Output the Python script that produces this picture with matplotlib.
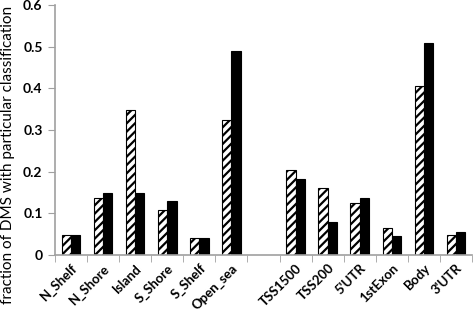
import matplotlib
matplotlib.use("Agg")
import matplotlib.pyplot as plt
import numpy as np

categories = ["N_Shelf", "N_Shore", "Island", "S_Shore", "S_Shelf", "Open_sea", "",
              "TSS1500", "TSS200", "5'UTR", "1stExon", "Body", "3'UTR"]
hatched_vals = [0.047, 0.138, 0.348, 0.108, 0.042, 0.325, np.nan,
                0.204, 0.160, 0.126, 0.066, 0.406, 0.047]
black_vals = [0.047, 0.150, 0.148, 0.130, 0.042, 0.490, np.nan,
              0.182, 0.080, 0.137, 0.045, 0.509, 0.056]
yticks = [0, 0.1, 0.2, 0.3, 0.4, 0.5, 0.6]
ytick_labels = ["0", "0.1", "0.2", "0.3", "0.4", "0.5", "0.6"]

plt.rcParams['font.family'] = ['Lato', 'DejaVu Sans']
plt.rcParams['hatch.linewidth'] = 1.6

fig = plt.figure(figsize=(4.73, 3.11), dpi=100)
ax = fig.add_axes([55/473, 1 - 255/311, (472 - 55)/473, (255 - 5)/311])

x = np.arange(len(categories))
w = 0.29
ax.bar(x - w/2, hatched_vals, width=w, color="white", edgecolor="black",
       hatch="////", linewidth=0.8)
ax.bar(x + w/2, black_vals, width=w, color="black", edgecolor="black", linewidth=0.8)

ax.set_xlim(-0.5, len(categories) - 0.5)
ax.set_ylim(0, 0.6)
ax.set_yticks(yticks)
ax.set_yticklabels(ytick_labels, fontsize=10, fontweight="bold")
ax.set_xticks(x)
ax.set_xticklabels(categories, rotation=45, ha="right", rotation_mode="anchor",
                   fontsize=9.5, fontweight="bold")
ax.set_xticks(np.arange(len(categories) + 1) - 0.5, minor=True)
ax.tick_params(axis="x", which="major", length=0, pad=5)
ax.tick_params(axis="x", which="minor", length=5, color="#a0a0a0")
ax.tick_params(axis="y", length=5, color="#a0a0a0", pad=4)

for s in ["top", "right"]:
    ax.spines[s].set_visible(False)
for s in ["left", "bottom"]:
    ax.spines[s].set_color("#a0a0a0")
    ax.spines[s].set_linewidth(1.2)

ax.set_ylabel("fraction of DMS with particular classification", fontsize=11)
ax.yaxis.set_label_coords(-0.095, 0.40)

fig.savefig("out.png", dpi=100)
